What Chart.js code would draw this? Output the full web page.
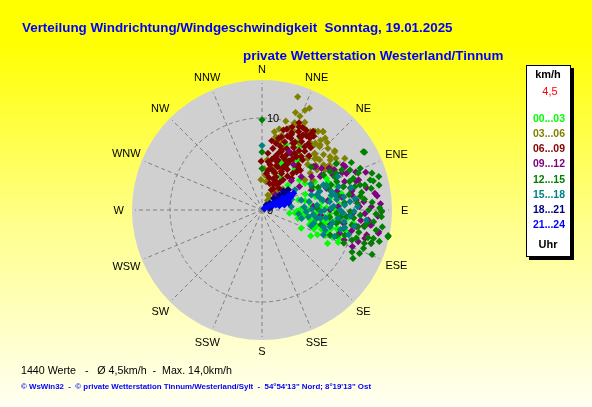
<!DOCTYPE html>
<html><head><meta charset="utf-8">
<script src="https://cdn.jsdelivr.net/npm/chart.js@4.4.0/dist/chart.umd.min.js"></script>
<style>html,body{margin:0;padding:0;background:#fff}canvas{display:block}</style>
</head><body>
<canvas id="c" width="592" height="407" style="width:592px;height:407px"></canvas>
<script>
// ---- texts ----
const titleLine1 = 'Verteilung Windrichtung/Windgeschwindigkeit  Sonntag, 19.01.2025';
const titleLine2 = 'private Wetterstation Westerland/Tinnum';
const footerLine1 = '1440 Werte   -   \u00D8 4,5km/h  -  Max. 14,0km/h';
const footerLine2 = '\u00A9 WsWin32  -  \u00A9 private Wetterstation Tinnum/Westerland/Sylt  -  54\u00B054\'13" Nord; 8\u00B019\'13" Ost';
const legendUnit = 'km/h';
const legendMean = '4,5';
const legendFoot = 'Uhr';

// ---- categories / ticks ----
const directionLabels = ['N','NNE','NE','ENE','E','ESE','SE','SSE','S','SSW','SW','WSW','W','WNW','NW','NNW'];
const speedTicks = [0, 10];
const timeLabels = ['00...03','03...06','06...09','09...12','12...15','15...18','18...21','21...24'];

// ---- series values: [direction in degrees, speed in km/h] ----
const s0003 = [[96.8,3.0],[96.7,4.7],[97.2,7.2],[99.2,8.0],[102,7.0],[104.8,7.8],[104.7,8.5],[95.6,5.6],[86.7,6.3],[66.8,7.8],[72.6,8.5],[78.1,8.8],[68.8,6.5],[74.5,4.1],[72,2.4],[46,3.9],[51.5,5.2],[115,4.7],[110,8.9],[99,9.1],[108,8.7],[103.8,8.4],[97,4.4],[63.9,7.8],[61.9,6.5],[90,5.0],[92,6.0],[100,6.6],[106,6.2],[112,7.4],[88,7.0],[84,5.4],[94,8.2],[101,5.3],[108,6.8],[118,6.0],[80,7.5],[76,6.0],[70,5.0],[92,3.8],[104,9.4],[113,9.0],[98,10.0],[99.3,7.8],[28.3,8.6],[33.9,9.6],[26,6.9],[25.9,6.1],[38.1,5.8],[22.5,5.5],[33.4,7.2],[29.4,5.8],[39.5,5.6],[28.4,4.1],[58.2,5.5],[20,7.6],[31,8.0],[36,6.6],[95,3.6],[98,5.0],[102,5.8],[105,7.0],[109,7.6],[111,8.2],[100,7.6],[96,6.8],[93,7.4],[90,8.0],[86,8.4],[103,4.0],[107,5.4],[114,6.6],[117,8.0],[95,9.4],[89,4.2],[82,6.6],[78,4.8],[110,6.0]];
const s0306 = [[17.5,12.9],[23.3,11.8],[20.4,10.1],[17.8,9.3],[10.6,8.1],[24.9,9.4],[27.4,10.0],[33.5,9.8],[38,10.8],[41.3,10.4],[38.8,9.1],[14.7,8.4],[21.8,9.2],[27.6,10.0],[32.7,9.9],[14.5,7.7],[38.6,9.3],[42.3,9.3],[42.9,8.4],[51.3,10.1],[49,8.3],[56.4,8.8],[57.5,8.1],[41.7,7.5],[19,4.2],[12,4.8],[33,1.5],[21.8,1.75],[33.4,2.2],[54.9,5.7],[59.5,6.4],[58.1,10.6],[53.7,9.2],[45.7,8.0],[53.7,8.3],[58,9.6],[35.5,10.5],[31.7,10.0],[40.8,7.7],[43,8.4],[53.8,7.4],[52.6,6.6],[31.6,6.2],[17.3,4.7],[358,3.3],[5,3.8],[8,3.1],[25,2.8],[45,3.2],[30,9.6],[36,9.0],[28,8.9],[47,9.8],[20.8,10.1],[18.9,9.4],[31.1,9.7],[37.8,10.8],[14.8,7.7],[10.5,7.7],[19,7.1],[26.3,7.7],[29.7,8.3],[41.7,9.5],[50.9,10.2],[51.9,9.4],[46.7,8.2],[56.8,8.6],[22,11.0],[26,10.6],[34,10.3],[40,9.9],[44,10.2],[48,9.0],[25,12.2],[19,11.2],[15,10.0],[12,9.0],[9,8.6],[45,7.0],[50,7.6],[55,9.8],[60,8.9],[36,7.2],[30,1.2],[40,2.5],[6,5.5],[3,4.5]];
const s0609 = [[359,5.3],[21.3,8.8],[27,9.0],[28.7,9.3],[33.6,9.4],[18.4,7.8],[24.9,8.0],[34,8.3],[18.3,6.7],[27.3,6.9],[36.4,7.2],[17.7,5.7],[29.1,5.8],[39.7,6.1],[26.7,4.7],[23,3.9],[16,6.4],[24.7,6.0],[38.9,6.3],[18,5.1],[28.2,4.5],[43,4.7],[23,3.1],[13.7,5.9],[7.4,5.3],[10,6.8],[12,7.4],[15,8.2],[20,9.6],[24,9.9],[30,8.6],[32,7.6],[22,7.2],[14,4.5],[20,5.0],[32,5.2],[35,4.0],[30,3.2],[25,2.4],[38,3.0],[12,3.6],[9,4.4],[16,3.0],[27,5.4],[21,6.2],[31,6.5],[19,8.5],[26,8.2],[35,8.8],[41,7.8],[8,7.6],[6,6.2],[17,9.2],[23,10.3],[29,9.9],[33,10.2],[11,5.6],[44,6.0],[40,5.2],[32.6,9.7],[28.4,9.1],[14,6.0],[18,6.9],[22,8.4],[25,9.4],[27,7.6],[29,6.1],[33,6.9],[36,7.9],[38,8.6],[13,8.0],[16,7.2],[19,4.3],[24,3.5],[28,2.6],[33,3.6],[37,4.6],[42,5.6],[10,5.0],[7,4.0],[21,9.0],[26,10.0],[31,9.4],[35,9.8],[24,6.6],[30,7.1],[20,3.6],[17,5.5],[26,5.0],[39,7.0],[15,9.0]];
const s0912 = [[66.6,10.0],[72.7,11.0],[81.6,12.4],[88.3,11.9],[85.3,11.1],[80.5,9.9],[84,10.3],[61,10.1],[95.4,11.6],[97.8,12.0],[90.8,13.0],[105.4,11.6],[108.2,11.0],[106.6,8.8],[93.3,9.6],[99.3,9.0],[71.5,7.4],[60.1,7.3],[49.8,7.3],[68,5.8],[86,5.6],[90,7.4],[101.3,12.9],[62.4,10.2],[71,9.5],[73,10.7],[100.6,12.9],[103.4,11.7],[97.9,11.9],[92,9.9],[87.5,8.3],[51,7.5],[55,7.9],[49.7,5.6],[56,6.5],[59.6,7.5],[52.8,3.6],[41,2.2],[76,8.4],[82,7.2],[95,6.4],[102,7.6],[110,9.5],[64,8.6],[78,11.6],[88,10.6],[70,12.0],[45,4.5],[58,4.8],[100,10.4],[35,6.0],[25,7.0],[61,9.0],[78,10.0],[83,12.6],[87,12.9],[92,11.2],[96,10.8],[103,10.0],[107,12.4],[74,9.2],[68,11.0],[65,9.6],[93,12.6],[99,11.2],[112,10.6],[58,8.6],[81,8.8]];
const s1215 = [[60.1,12.7],[71.5,12.6],[74,13.2],[74.5,12.2],[76.4,11.5],[75.7,11.0],[75.9,10.4],[78.8,12.1],[89,12.8],[93.2,13.0],[91,9.6],[93,10.7],[97.2,11.5],[99.8,10.6],[99.5,9.9],[94.5,9.2],[98.7,8.4],[92.5,8.1],[102.7,9.1],[110.2,7.9],[99.2,11.3],[104.3,12.5],[101.5,14.0],[108.5,10.3],[73.6,7.7],[79,8.4],[60.3,7.7],[65.5,8.7],[69.3,8.7],[74,9.2],[76,9.9],[70.9,10.5],[69,11.2],[60.6,8.5],[65.6,10.5],[63.3,9.7],[60.6,12.8],[75.4,12.5],[110.7,11.8],[108,11.7],[102,14.0],[106.6,10.7],[90.5,13.0],[0,9.8],[0,6.3],[0,4.5],[48.7,7.1],[63.7,9.0],[85,9.0],[96,12.2],[112,9.6],[104,6.6],[88,6.0],[82,10.8],[68,6.6],[105,13.2],[96,7.4],[115,10.8],[112,12.9],[86,12.0],[80,9.6],[58,9.5],[65,6.0],[100,8.2],[104.6,11.9],[84,11.2],[90,11.6],[95,10.0],[98,13.2],[103,10.8],[107,9.4],[114,11.6],[72,10.0],[67,11.6],[62,11.0],[78,13.0],[92,12.4],[100,12.6],[86,10.4],[80,11.0],[107,12.4],[118,11.2],[70,8.0],[95,8.6],[109,8.6]];
const s1518 = [[67.8,7.2],[73,8.7],[77.9,7.7],[74.6,6.2],[80.7,6.7],[86.6,9.0],[90,8.5],[84.6,9.6],[104.5,5.8],[105.2,6.9],[102,9.2],[95.5,11.4],[103.8,7.6],[107.6,7.2],[98,6.4],[83,7.4],[68.9,7.5],[83.6,3.2],[76,4.4],[73,5.6],[91.6,6.4],[88.6,7.5],[98.3,5.1],[98.7,6.0],[96.2,8.3],[70.1,7.4],[78.3,8.1],[58.5,4.2],[0,7.0],[80,5.2],[86,4.6],[92,4.8],[94,9.6],[100,10.2],[62,6.0],[66,9.0],[110,8.4],[88,10.4],[76,10.0],[70,3.4],[82,8.2],[97,7.0],[85,6.0],[90,6.8],[95,5.6],[100,7.8],[104,8.8],[106,9.8],[92,8.8],[87,7.8],[81,9.0],[78,6.4],[72,6.6],[96,4.0],[102,4.4],[108,5.6],[112,7.2],[89,5.4],[75,7.8],[83,10.2],[98,9.0],[91,10.0]];
const s1821 = [[40,0.7],[49,1.1],[56.8,1.65],[70.5,1.1],[77.5,0.85],[73.6,2.55],[49.7,2.5],[51.9,3.6],[60,0.3],[55,2.0],[62,2.9],[58,3.2],[65,1.6],[45,1.8],[68,2.2],[52,3.0],[75,3.0],[60,3.4],[48,3.1],[63,1.3]];
const s2124 = [[58,0.35],[61,0.75],[65.6,1.3],[67.3,1.9],[68.4,2.45],[69,3.0],[60,1.9],[62,2.45],[58,1.35],[77,2.5],[73,3.0],[76,1.95],[66,3.4],[62,3.9],[64,3.6],[61,3.3],[66,2.9],[72,2.2],[59,2.6],[62,1.0],[70,1.6],[73,2.6],[63,3.1],[66,2.4]];

const seriesValues = [s0003, s0306, s0609, s0912, s1215, s1518, s1821, s2124];
const seriesColors = ['#00ff00','#808000','#800000','#800080','#008000','#008080','#000080','#0000ff'];

const RMAX = 14.13;
const DEG = Math.PI / 180;
const FONT = '"Liberation Sans", Arial, sans-serif';

function toXY(p) { return { x: p[1] * Math.sin(p[0] * DEG), y: p[1] * Math.cos(p[0] * DEG) }; }

const datasets = seriesValues.map((vals, i) => ({
  label: timeLabels[i],
  data: vals.map(toXY),
  backgroundColor: seriesColors[i],
  borderWidth: 0,
  pointStyle: 'rectRot',
  pointRadius: 3.6,
  pointHoverRadius: 3.6,
  order: seriesValues.length - i
}));

const decor = {
  id: 'decor',
  beforeDraw(chart) {
    const ctx = chart.ctx, W = chart.width, H = chart.height;
    ctx.save();
    const g = ctx.createLinearGradient(0, 0, 0, H);
    g.addColorStop(0, '#ffff00');
    g.addColorStop(0.1, '#ffff00');
    g.addColorStop(0.55, '#ffff8c');
    g.addColorStop(1, '#fffff2');
    ctx.fillStyle = g;
    ctx.fillRect(0, 0, W, H);

    // titles
    ctx.fillStyle = '#0000ff';
    ctx.font = 'bold 13.4px ' + FONT;
    ctx.textAlign = 'left';
    ctx.textBaseline = 'alphabetic';
    ctx.fillText(titleLine1, 22, 32);
    ctx.fillText(titleLine2, 243, 60);

    // footer
    ctx.fillStyle = '#000000';
    ctx.font = '11px ' + FONT;
    ctx.fillText(footerLine1, 21, 374, 211);
    ctx.fillStyle = '#0000ff';
    ctx.font = 'bold 8px ' + FONT;
    ctx.fillText(footerLine2, 21, 389, 350);

    // polar disk
    const xs = chart.scales.x, ys = chart.scales.y;
    const cx = xs.getPixelForValue(0), cy = ys.getPixelForValue(0);
    const pxPer = xs.getPixelForValue(1) - cx;
    const R = xs.getPixelForValue(RMAX) - cx;
    ctx.fillStyle = '#d0d0d0';
    ctx.beginPath(); ctx.arc(cx, cy, R, 0, 2 * Math.PI); ctx.fill();

    ctx.strokeStyle = '#808080';
    ctx.lineWidth = 1;
    ctx.setLineDash([4, 3]);
    speedTicks.forEach(t => {
      if (t <= 0) return;
      ctx.beginPath(); ctx.arc(cx, cy, t * pxPer, 0, 2 * Math.PI); ctx.stroke();
    });
    directionLabels.forEach((lab, i) => {
      const a = i * 22.5 * DEG;
      ctx.beginPath();
      ctx.moveTo(cx, cy);
      ctx.lineTo(cx + (R - 3) * Math.sin(a), cy - (R - 3) * Math.cos(a));
      ctx.stroke();
    });
    ctx.setLineDash([]);

    // direction labels
    ctx.fillStyle = '#000000';
    ctx.font = '11px ' + FONT;
    ctx.textAlign = 'center';
    ctx.textBaseline = 'middle';
    directionLabels.forEach((lab, i) => {
      const a = i * 22.5 * DEG;
      const w = ctx.measureText(lab).width;
      const r = R + 11 + 0.22 * w * Math.abs(Math.sin(a));
      ctx.fillText(lab, cx + r * Math.sin(a), cy - r * Math.cos(a) + 0.5);
    });
    // speed tick labels
    ctx.textAlign = 'left';
    speedTicks.forEach(t => {
      ctx.fillText(String(t), cx + 5, cy - t * pxPer + 1);
    });
    ctx.restore();
  },
  afterDraw(chart) {
    const ctx = chart.ctx;
    ctx.save();
    // legend box with shadow
    ctx.fillStyle = '#000000';
    ctx.fillRect(529, 68, 45, 192);
    ctx.fillStyle = '#ffffff';
    ctx.fillRect(526, 65, 45, 192);
    ctx.strokeStyle = '#000000';
    ctx.lineWidth = 1;
    ctx.strokeRect(526.5, 65.5, 44, 191);
    ctx.textBaseline = 'middle';
    ctx.textAlign = 'center';
    ctx.fillStyle = '#000000';
    ctx.font = 'bold 11px ' + FONT;
    ctx.fillText(legendUnit, 548, 75);
    ctx.fillStyle = '#ff0000';
    ctx.font = '11px ' + FONT;
    ctx.fillText(legendMean, 550, 92);
    ctx.textAlign = 'left';
    ctx.font = 'bold 10.5px ' + FONT;
    timeLabels.forEach((lab, i) => {
      ctx.fillStyle = seriesColors[i];
      ctx.fillText(lab, 533, 119 + i * 15.2, 32);
    });
    ctx.textAlign = 'center';
    ctx.fillStyle = '#000000';
    ctx.font = 'bold 11px ' + FONT;
    ctx.fillText(legendFoot, 548, 245);
    ctx.restore();
  }
};

new Chart(document.getElementById('c'), {
  type: 'scatter',
  data: { datasets },
  options: {
    responsive: false,
    animation: false,
    devicePixelRatio: 1,
    layout: { padding: { left: 132, right: 200, top: 80, bottom: 67 } },
    scales: {
      x: { type: 'linear', min: -RMAX, max: RMAX, display: false },
      y: { type: 'linear', min: -RMAX, max: RMAX, display: false }
    },
    plugins: { legend: { display: false }, title: { display: false }, tooltip: { enabled: false } },
    events: []
  },
  plugins: [decor]
});
</script>
</body></html>
